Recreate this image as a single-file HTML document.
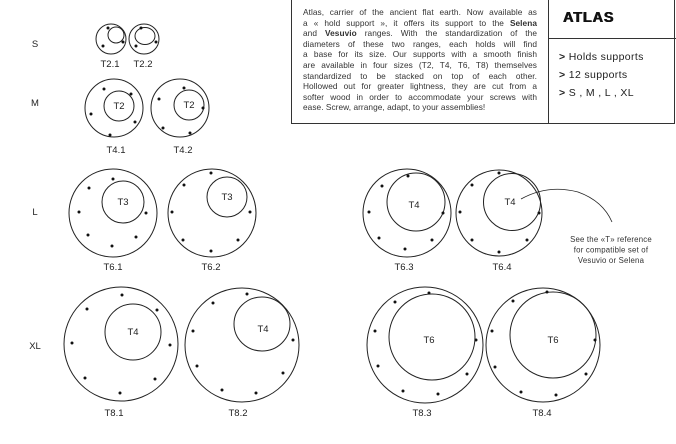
<!DOCTYPE html>
<html><head><meta charset="utf-8"><style>
html,body{margin:0;padding:0;background:#fff;}
body{width:676px;height:444px;position:relative;overflow:hidden;font-family:"Liberation Sans",sans-serif;color:#222;}
#box{position:absolute;left:291px;top:-1px;width:384px;height:125px;border:1px solid #333;box-sizing:border-box;}
#div{position:absolute;left:548px;top:0;width:1px;height:124px;background:#333;}
#hl{position:absolute;left:548px;top:38px;width:128px;height:1px;background:#333;}
#para{position:absolute;left:303px;top:7px;width:234px;font-size:8.3px;letter-spacing:0.05px;line-height:10.6px;color:#333;}
#para div{text-align:justify;text-align-last:justify;white-space:nowrap;}
#para div.l{text-align-last:left;}
#atlas{position:absolute;left:563px;top:10px;font-size:14.5px;font-weight:bold;letter-spacing:0.8px;color:#111;text-shadow:0.5px 0 0 #111,-0.3px 0 0 #111;}
.li{position:absolute;left:559px;font-size:10.5px;letter-spacing:0.35px;color:#222;}
svg{position:absolute;left:0;top:0;}
</style></head><body>
<div id="box"></div><div id="div"></div><div id="hl"></div>
<div id="para">
<div>Atlas, carrier of the ancient flat earth. Now available as</div>
<div>a « hold support », it offers its support to the <b>Selena</b></div>
<div>and <b>Vesuvio</b> ranges. With the standardization of the</div>
<div>diameters of these two ranges, each holds will find</div>
<div>a base for its size. Our supports with a smooth finish</div>
<div>are available in four sizes (T2, T4, T6, T8) themselves</div>
<div>standardized to be stacked on top of each other.</div>
<div>Hollowed out for greater lightness, they are cut from a</div>
<div>softer wood in order to accommodate your screws with</div>
<div class="l">ease. Screw, arrange, adapt, to your assemblies!</div>
</div>
<div id="atlas">ATLAS</div>
<div class="li" style="top:51px"><b>&gt;</b> Holds supports</div>
<div class="li" style="top:69px"><b>&gt;</b> 12 supports</div>
<div class="li" style="top:87px"><b>&gt;</b> S , M , L , XL</div>
<svg width="676" height="444" viewBox="0 0 676 444" font-family="Liberation Sans, sans-serif" font-size="9" fill="none" stroke="#222" stroke-width="1">
<g fill="#222" stroke="none" font-size="9.5" text-anchor="middle">
<text x="35" y="47">S</text><text x="35" y="106">M</text><text x="35" y="215">L</text><text x="35" y="349">XL</text>
<text x="110" y="67">T2.1</text><text x="143" y="67">T2.2</text>
<text x="116" y="153">T4.1</text><text x="183" y="153">T4.2</text>
<text x="113" y="270">T6.1</text><text x="211" y="270">T6.2</text><text x="404" y="270">T6.3</text><text x="502" y="270">T6.4</text>
<text x="114" y="416">T8.1</text><text x="238" y="416">T8.2</text><text x="422" y="416">T8.3</text><text x="542" y="416">T8.4</text>
<text x="119" y="109">T2</text><text x="189" y="108">T2</text>
<text x="123" y="205">T3</text><text x="227" y="200">T3</text><text x="414" y="208">T4</text><text x="510" y="205">T4</text>
<text x="133" y="335">T4</text><text x="263" y="332">T4</text><text x="429" y="343">T6</text><text x="553" y="343">T6</text>
<g font-size="7.8" fill="#333" letter-spacing="0.2"><text x="611" y="242">See the «T» reference</text><text x="611" y="252.5">for compatible set of</text><text x="611" y="263">Vesuvio or Selena</text></g>
</g>
<circle cx="111" cy="39" r="15"/><circle cx="116" cy="35" r="8"/>
<circle cx="144" cy="39" r="15"/><ellipse cx="145" cy="36" rx="10" ry="8.5"/>
<circle cx="114" cy="108" r="29"/><circle cx="119" cy="106" r="15"/>
<circle cx="180" cy="108" r="29"/><circle cx="189" cy="105" r="15"/>
<circle cx="113" cy="213" r="44"/><circle cx="123" cy="202" r="21"/>
<circle cx="212" cy="213" r="44"/><ellipse cx="227" cy="197" rx="20" ry="20"/>
<circle cx="407" cy="213" r="44"/><circle cx="416" cy="202" r="29"/>
<circle cx="499" cy="213" r="43"/><circle cx="512" cy="202" r="28.5"/>
<circle cx="121" cy="344" r="57"/><circle cx="133" cy="332" r="28"/>
<circle cx="242" cy="345" r="57"/><ellipse cx="262" cy="324" rx="28" ry="27"/>
<circle cx="425" cy="345" r="58"/><circle cx="432" cy="337" r="43"/>
<circle cx="543" cy="345" r="57"/><circle cx="553" cy="335" r="43"/>
<path d="M521,199 Q548,184 578,192 Q603,201 612,222" stroke-width="0.8"/>
<g fill="#111" stroke="none">
<circle cx="108" cy="28" r="1.5"/><circle cx="123" cy="42" r="1.5"/><circle cx="103" cy="46" r="1.5"/>
<circle cx="141" cy="28" r="1.5"/><circle cx="156" cy="42" r="1.5"/><circle cx="136" cy="46" r="1.5"/>
<circle cx="104" cy="89" r="1.5"/><circle cx="131" cy="94" r="1.5"/><circle cx="91" cy="114" r="1.5"/><circle cx="135" cy="122" r="1.5"/><circle cx="110" cy="135" r="1.5"/>
<circle cx="184" cy="88" r="1.5"/><circle cx="159" cy="99" r="1.5"/><circle cx="203" cy="108" r="1.5"/><circle cx="163" cy="128" r="1.5"/><circle cx="190" cy="133" r="1.5"/>
<circle cx="113" cy="179" r="1.5"/><circle cx="89" cy="188" r="1.5"/><circle cx="79" cy="212" r="1.5"/><circle cx="146" cy="213" r="1.5"/><circle cx="88" cy="235" r="1.5"/><circle cx="136" cy="237" r="1.5"/><circle cx="112" cy="246" r="1.5"/>
<circle cx="211" cy="173" r="1.5"/><circle cx="184" cy="185" r="1.5"/><circle cx="172" cy="212" r="1.5"/><circle cx="250" cy="212" r="1.5"/><circle cx="183" cy="240" r="1.5"/><circle cx="238" cy="240" r="1.5"/><circle cx="211" cy="251" r="1.5"/>
<circle cx="408" cy="176" r="1.5"/><circle cx="382" cy="186" r="1.5"/><circle cx="369" cy="212" r="1.5"/><circle cx="443" cy="213" r="1.5"/><circle cx="379" cy="238" r="1.5"/><circle cx="432" cy="240" r="1.5"/><circle cx="405" cy="249" r="1.5"/>
<circle cx="499" cy="173" r="1.5"/><circle cx="472" cy="185" r="1.5"/><circle cx="460" cy="212" r="1.5"/><circle cx="539" cy="213" r="1.5"/><circle cx="472" cy="240" r="1.5"/><circle cx="527" cy="240" r="1.5"/><circle cx="499" cy="252" r="1.5"/>
<circle cx="122" cy="295" r="1.5"/><circle cx="87" cy="309" r="1.5"/><circle cx="157" cy="310" r="1.5"/><circle cx="72" cy="343" r="1.5"/><circle cx="170" cy="345" r="1.5"/><circle cx="85" cy="378" r="1.5"/><circle cx="155" cy="379" r="1.5"/><circle cx="120" cy="393" r="1.5"/>
<circle cx="247" cy="294" r="1.5"/><circle cx="213" cy="303" r="1.5"/><circle cx="193" cy="331" r="1.5"/><circle cx="293" cy="340" r="1.5"/><circle cx="197" cy="366" r="1.5"/><circle cx="283" cy="373" r="1.5"/><circle cx="222" cy="390" r="1.5"/><circle cx="256" cy="393" r="1.5"/>
<circle cx="429" cy="293" r="1.5"/><circle cx="395" cy="302" r="1.5"/><circle cx="375" cy="331" r="1.5"/><circle cx="476" cy="340" r="1.5"/><circle cx="378" cy="366" r="1.5"/><circle cx="467" cy="374" r="1.5"/><circle cx="403" cy="391" r="1.5"/><circle cx="438" cy="394" r="1.5"/>
<circle cx="547" cy="292" r="1.5"/><circle cx="513" cy="301" r="1.5"/><circle cx="492" cy="331" r="1.5"/><circle cx="595" cy="340" r="1.5"/><circle cx="495" cy="367" r="1.5"/><circle cx="586" cy="374" r="1.5"/><circle cx="521" cy="392" r="1.5"/><circle cx="556" cy="395" r="1.5"/>
</g>
</svg>
</body></html>
